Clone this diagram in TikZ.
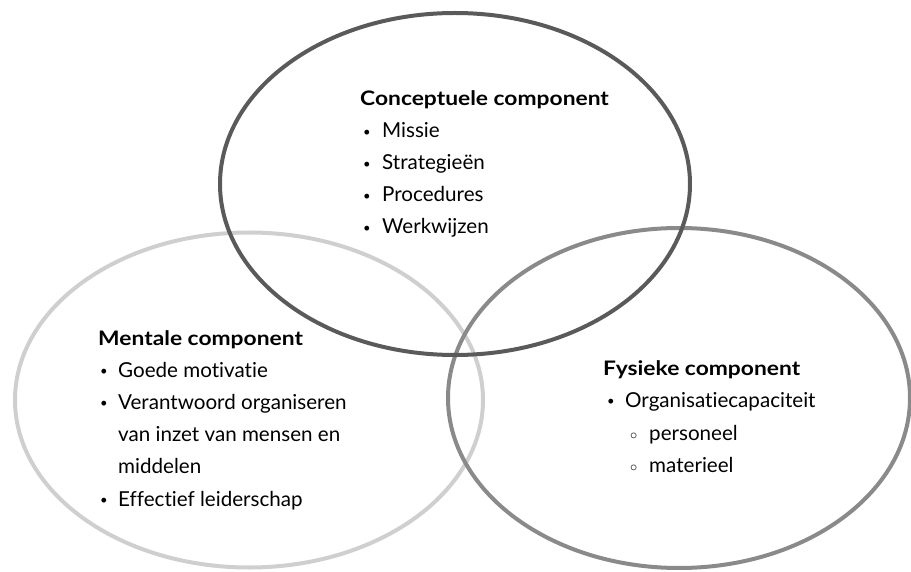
\documentclass[tikz,border=0pt]{standalone}
\usepackage{fontspec}
\setmainfont{Lato}[Ligatures=NoCommon, BoldFeatures={FakeStretch=1.14}]
\usetikzlibrary{shapes.geometric}

\definecolor{ringdark}{HTML}{5A5A5A}
\definecolor{ringmid}{HTML}{8A8A8A}
\definecolor{ringlight}{HTML}{CFCFCF}

\newcommand{\dotmark}{\raisebox{1.5pt}{\fontsize{13}{13}\selectfont\textbullet}}
\newcommand{\ringmark}{\raisebox{0.5pt}{$\scriptstyle\circ$}}

\tikzset{
  ring/.style={ellipse, draw, line width=4pt, inner sep=0pt},
  heading/.style={anchor=base west, inner sep=0pt, font=\fontsize{20}{24}\selectfont\bfseries},
  entry/.style={anchor=base west, inner sep=0pt, font=\fontsize{20.6}{24}\selectfont},
}

\begin{document}
\begin{tikzpicture}[x=1pt, y=-1pt]
\useasboundingbox (0,0) rectangle (911,572);
% the three rings
\node[ring, ringlight, minimum width=468pt, minimum height=335pt] (mental) at (249,400) {};
\node[ring, ringmid, minimum width=462pt, minimum height=340pt] (physical) at (679,398) {};
\node[ring, ringdark, minimum width=470pt, minimum height=342pt] (concept) at (455,184) {};
% conceptual
\node[heading] (concept-head) at (360,106) {Conceptuele component};
\foreach \txt [count=\i] in {Missie, Strategieën, Procedures, Werkwijzen}
    \node[entry] (concept-\i) at (363,106+32*\i) {\makebox[19pt][l]{\dotmark}\txt};
% mental
\node[heading] (mental-head) at (98,345) {Mentale component};
\foreach \bmark/\txt [count=\i] in {\dotmark/Goede motivatie, \dotmark/Verantwoord organiseren, /van inzet van mensen en, /middelen, \dotmark/Effectief leiderschap}
    \node[entry] (mental-\i) at (100,345+32.2*\i) {\makebox[18pt][l]{\bmark}\txt};
% physical
\node[heading] (physical-head) at (603,375) {Fysieke component};
\node[entry] (physical-1) at (607,407) {\makebox[18pt][l]{\dotmark}Organisatiecapaciteit};
\node[entry] (physical-2) at (630,440) {\makebox[19pt][l]{\ringmark}personeel};
\node[entry] (physical-3) at (630,472) {\makebox[19pt][l]{\ringmark}materieel};
\end{tikzpicture}
\end{document}
